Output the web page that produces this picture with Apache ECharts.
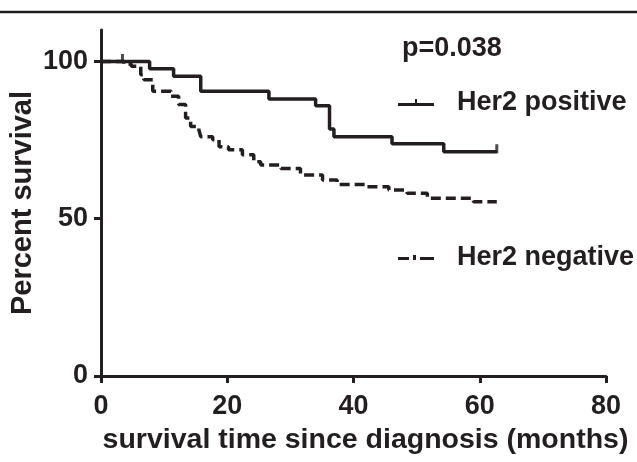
<!DOCTYPE html>
<html>
<head>
<meta charset="utf-8">
<script src="https://cdn.jsdelivr.net/npm/echarts@6/dist/echarts.min.js"></script>
<style>
  html, body { margin: 0; padding: 0; background: #fff; }
  #chart { width: 637px; height: 462px; }
</style>
</head>
<body>
<div id="chart"></div>
<script>
// Kaplan-Meier steps: [month, percent survival after the drop]
var posSteps = [[0, 100], [7.7, 97.7], [11.5, 95.3], [15.8, 90.5], [26.6, 88.1], [34, 85.9],
                [36.2, 78.5], [36.9, 76.1], [46.1, 73.8], [54.3, 71.3], [62.7, 71.3]]
var negSteps = [[0, 100], [3.6, 99.2], [4.8, 98.5], [6.3, 95.8], [6.8, 94.2], [8.2, 90.5],
                [11.1, 88.9], [12.3, 86.3], [13.4, 82], [14.2, 79.3], [15.5, 78.3], [15.8, 76.1],
                [17.7, 75.1], [18.7, 72.9], [20.2, 71.9], [22.4, 70.3], [24.2, 68.1], [25.3, 67.1],
                [28.5, 66], [31.6, 63.9], [35.1, 62.3], [37.4, 60.9], [42.2, 60.2], [45.6, 59.1],
                [48.5, 58.1], [51.7, 56.5], [59, 55.4], [62.7, 55.4]]
var posCensor = [[3.4, 100], [62.7, 71.3]]
var xTicks = [0, 20, 40, 60, 80]
var yTicks = [0, 50, 100]
var seriesNames = ['Her2 positive', 'Her2 negative']
var pText = 'p=0.038'

var ink = '#231f20'
var font = 'Liberation Sans'

var myChart = echarts.init(document.getElementById('chart'))

var option = {
    animation: false,
    backgroundColor: '#fff',
    grid: { left: 101, right: 31, top: 30, bottom: 86, outerBoundsMode: 'none' },
    xAxis: {
        type: 'value', min: 0, max: 80, interval: 20,
        name: 'survival time since diagnosis (months)',
        nameLocation: 'middle', nameGap: 50, nameMoveOverlap: false,
        nameTextStyle: { color: ink, fontFamily: font, fontWeight: 'bold', fontSize: 28.5, padding: [0, 0, 0, 24] },
        axisLine: { lineStyle: { color: ink, width: 3 } },
        axisTick: { length: 7, lineStyle: { color: ink, width: 3 }, customValues: xTicks },
        axisLabel: { color: ink, fontFamily: font, fontWeight: 'bold', fontSize: 27, margin: 17, customValues: xTicks },
        splitLine: { show: false }
    },
    yAxis: {
        type: 'value', min: 0, max: 110, interval: 50,
        name: 'Percent survival',
        nameLocation: 'middle', nameGap: 64, nameRotate: 90, nameMoveOverlap: false,
        nameTextStyle: { color: ink, fontFamily: font, fontWeight: 'bold', fontSize: 29 },
        axisLine: { show: true, lineStyle: { color: ink, width: 3 } },
        axisTick: { show: true, length: 7, lineStyle: { color: ink, width: 3 }, customValues: yTicks },
        axisLabel: { color: ink, fontFamily: font, fontWeight: 'bold', fontSize: 27, margin: 13, customValues: yTicks },
        splitLine: { show: false }
    },
    legend: {
        orient: 'vertical', left: 393, top: 84,
        itemWidth: 36, itemHeight: 12, itemGap: 128,
        textStyle: { color: ink, fontFamily: font, fontWeight: 'bold', fontSize: 27, padding: [0, 0, 0, 18] },
        data: [
            { name: seriesNames[0], icon: 'path://M0,5 L36,5 L36,8 L0,8 Z M17,1 L19,1 L19,5 L17,5 Z' },
            { name: seriesNames[1], icon: 'path://M0,5 L11,5 L11,8 L0,8 Z M15,3 L18,3 L18,8 L15,8 Z M22,5 L36,5 L36,8 L22,8 Z' }
        ]
    },
    graphic: [
        { type: 'line', shape: { x1: 0, y1: 12, x2: 637, y2: 12 }, style: { stroke: ink, lineWidth: 2.5 } },
        { type: 'text', left: 402, top: 35, style: { text: pText, fill: ink, font: 'bold 27px "Liberation Sans"' } }
    ],
    series: [
        {
            name: seriesNames[0], type: 'line', step: 'end', symbol: 'none',
            color: ink, lineStyle: { color: ink, width: 3.5 },
            data: posSteps
        },
        {
            name: seriesNames[1], type: 'line', step: 'end', symbol: 'none',
            color: ink, lineStyle: { color: ink, width: 3.5, type: [10, 5] },
            data: negSteps
        },
        {
            name: 'censor', type: 'scatter', symbol: 'rect', symbolSize: [3, 9], symbolOffset: [0, -3],
            itemStyle: { color: ink }, data: posCensor
        }
    ]
}

myChart.setOption(option)
</script>
</body>
</html>
